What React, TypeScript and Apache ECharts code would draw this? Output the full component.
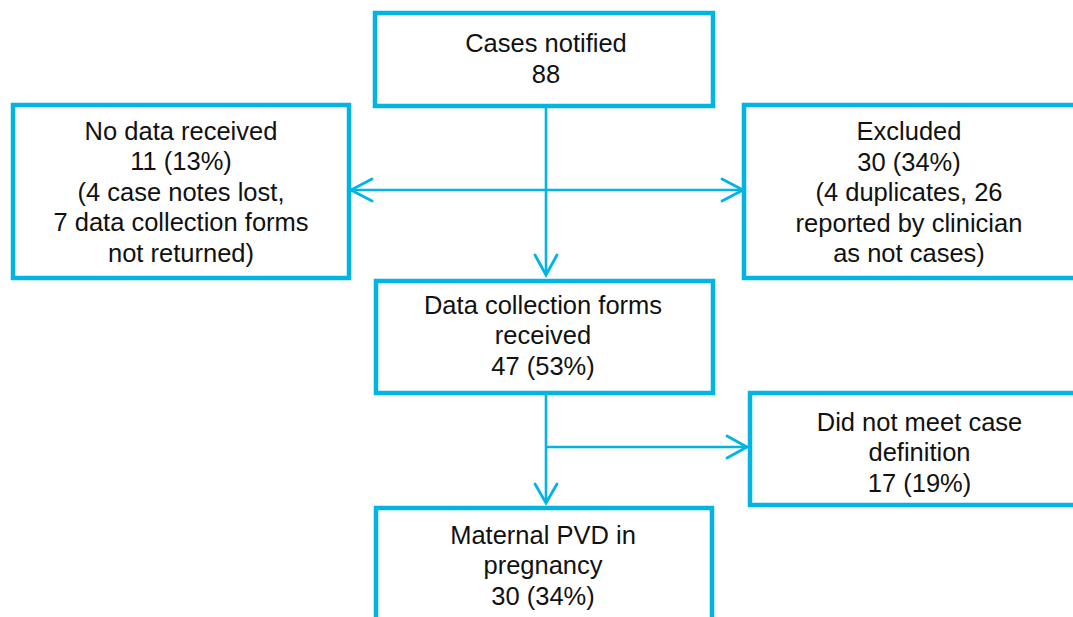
import React, { useEffect, useRef } from "react";
import * as echarts from "echarts";

// Flow-chart content
const boxTitles: string[] = [
  "Cases notified",
  "No data received",
  "Excluded",
  "Data collection forms\nreceived",
  "Did not meet case\ndefinition",
  "Maternal PVD in\npregnancy",
];
const boxCounts: number[] = [88, 11, 30, 47, 17, 30];
const boxPercents: (number | null)[] = [null, 13, 34, 53, 19, 34];
const boxNotes: string[] = [
  "",
  "(4 case notes lost,\n7 data collection forms\nnot returned)",
  "(4 duplicates, 26\nreported by clinician\nas not cases)",
  "",
  "",
  "",
];

const COLOR = "#00b5e2";
const FONT = "'Liberation Sans', Arial, Helvetica, sans-serif";

function boxText(i: number): string {
  let t = boxTitles[i] + "\n" + boxCounts[i];
  if (boxPercents[i] !== null) t += " (" + boxPercents[i] + "%)";
  if (boxNotes[i]) t += "\n" + boxNotes[i];
  return t;
}

export default function App() {
  const ref = useRef<HTMLDivElement>(null);

  useEffect(() => {
    document.body.style.margin = "0";
    if (!ref.current) return;
    const chart = echarts.init(ref.current, null, { renderer: "svg" });

    // layout: rect (stroke-centred) and text centre for each box
    const rects = [
      { x: 375, y: 13, w: 338, h: 93 },
      { x: 13, y: 105, w: 336, h: 173 },
      { x: 744, y: 105, w: 345, h: 173 },
      { x: 376, y: 281, w: 337, h: 112 },
      { x: 750, y: 393, w: 345, h: 112 },
      { x: 376, y: 508, w: 336, h: 140 },
    ];
    const centers = [
      { x: 546, y: 58.5 },
      { x: 181, y: 191.5 },
      { x: 909, y: 192 },
      { x: 543, y: 335 },
      { x: 919.5, y: 452 },
      { x: 543, y: 565 },
    ];

    const elements: any[] = [];

    // connector lines
    const lines = [
      [546, 106, 546, 275],
      [351, 190, 743, 190],
      [546, 393, 546, 503],
      [546, 447, 747, 447],
    ];
    lines.forEach((l) =>
      elements.push({
        type: "line",
        shape: { x1: l[0], y1: l[1], x2: l[2], y2: l[3] },
        style: { stroke: COLOR, lineWidth: 2.6 },
        z: 1,
      })
    );
    // arrowheads (open chevrons)
    const heads = [
      [[535, 255], [546, 275], [557, 255]],
      [[372, 179], [351, 190], [372, 201]],
      [[722, 179], [743, 190], [722, 201]],
      [[535, 484], [546, 503], [557, 484]],
      [[727, 436], [747, 447], [727, 458]],
    ];
    heads.forEach((h) =>
      elements.push({
        type: "polyline",
        shape: { points: h },
        style: { stroke: COLOR, lineWidth: 2.8, fill: null, lineCap: "round", lineJoin: "miter" },
        z: 1,
      })
    );

    rects.forEach((r, i) => {
      elements.push({
        type: "rect",
        shape: { x: r.x, y: r.y, width: r.w, height: r.h },
        style: { fill: "#ffffff", stroke: COLOR, lineWidth: 4.5 },
        z: 2,
      });
      elements.push({
        type: "text",
        x: centers[i].x,
        y: centers[i].y,
        style: {
          text: boxText(i),
          fill: "#111111",
          fontSize: 25.5,
          fontFamily: FONT,
          lineHeight: 30.5,
          align: "center",
          verticalAlign: "middle",
        },
        z: 3,
      });
    });

    chart.setOption({
      animation: false,
      backgroundColor: "#ffffff",
      graphic: { elements },
    });

    return () => {
      chart.dispose();
    };
  }, []);

  return <div ref={ref} style={{ width: 1073, height: 617 }} />;
}
